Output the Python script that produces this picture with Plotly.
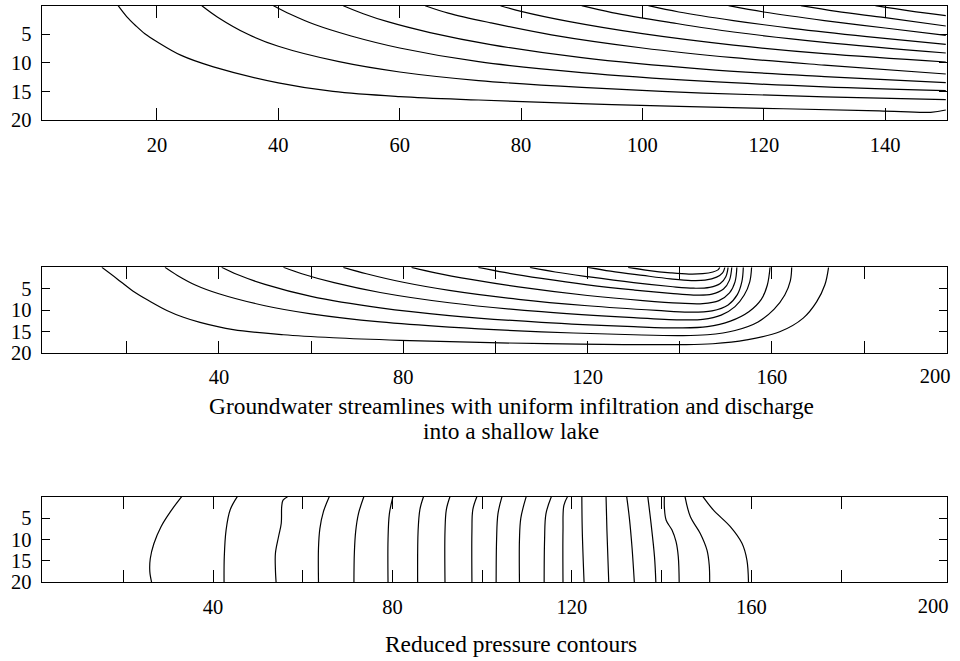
import plotly.graph_objects as go

# ---------------- data ----------------
depth_ticks = [5, 10, 15, 20]
top_x_ticks = [20, 40, 60, 80, 100, 120, 140]
wide_x_ticks = [20, 40, 60, 80, 100, 120, 140, 160, 180]
wide_x_labels = ["", "40", "", "80", "", "120", "", "160", ""]

# Top panel: streamlines (x, depth)
top_lines_x = [
    [13.6, 15.0, 16.5, 18.0, 20.0, 24.0, 29.3, 40.0, 49.0, 60.0, 73.0, 95.0, 120.0, 139.0, 147.5, 150.0],
    [27.4, 30.0, 35.0, 40.0, 50.0, 60.0, 73.0, 90.0, 110.0, 130.0, 150.0],
    [39.2, 42.0, 46.0, 52.0, 60.0, 73.0, 90.0, 110.0, 130.0, 150.0],
    [50.7, 54.0, 58.0, 65.0, 75.0, 90.0, 110.0, 130.0, 150.0],
    [64.2, 68.0, 75.0, 85.0, 100.0, 115.0, 130.0, 150.0],
    [76.6, 80.0, 88.0, 100.0, 115.0, 130.0, 150.0],
    [90.0, 95.0, 105.0, 115.0, 130.0, 150.0],
    [101.0, 106.0, 115.0, 125.0, 137.0, 150.0],
    [114.2, 120.0, 130.0, 140.0, 150.0],
    [126.1, 132.0, 140.0, 150.0],
    [138.4, 144.0, 150.0],
]
top_lines_y = [
    [0.0, 1.9, 3.5, 4.9, 6.3, 8.7, 10.7, 13.5, 15.0, 15.9, 16.5, 17.3, 17.95, 18.4, 18.65, 18.25],
    [0.0, 2.0, 5.0, 7.1, 9.8, 11.6, 13.1, 14.3, 15.3, 15.95, 16.45],
    [0.0, 1.5, 3.3, 5.3, 7.4, 9.8, 11.7, 13.2, 14.2, 14.87],
    [0.0, 1.4, 2.8, 4.7, 6.8, 9.1, 11.1, 12.4, 13.45],
    [0.0, 1.3, 3.0, 5.1, 7.4, 9.1, 10.4, 11.95],
    [0.0, 1.0, 2.8, 4.9, 6.9, 8.4, 9.85],
    [0.0, 1.2, 3.0, 4.6, 6.4, 8.28],
    [0.0, 1.1, 2.6, 4.0, 5.4, 6.75],
    [0.0, 1.1, 2.6, 3.9, 5.18],
    [0.0, 1.0, 2.1, 3.55],
    [0.0, 0.9, 1.75],
]

# Middle panel: streamlines discharging into a shallow lake
mid_lines_x = [
    [14.6, 17.8, 21.4, 25.1, 28.7, 32.3, 35.9, 43.1, 54.0, 64.8, 79.3, 96.6, 118.3, 140.0, 147.2, 154.5, 161.7, 166.8, 169.7, 171.5, 172.3],
    [28.3, 31.0, 35.0, 40.0, 50.0, 60.0, 75.0, 90.0, 110.0, 130.0, 140.0, 146.0, 152.0, 157.0, 160.5, 162.8, 164.0, 164.3],
    [40.6, 44.0, 50.0, 60.0, 75.0, 90.0, 110.0, 130.0, 140.0, 146.0, 151.0, 155.0, 157.7, 159.0, 159.6],
    [54.0, 58.0, 65.0, 75.0, 90.0, 110.0, 130.0, 140.0, 145.0, 149.0, 152.0, 154.0, 155.2, 155.6],
    [67.0, 72.0, 80.0, 90.0, 105.0, 120.0, 135.0, 142.0, 147.0, 150.5, 152.5, 153.5, 153.8],
    [81.8, 87.0, 95.0, 105.0, 120.0, 132.0, 140.0, 145.0, 148.5, 150.8, 152.0, 152.4],
    [96.3, 102.0, 110.0, 120.0, 130.0, 138.0, 143.0, 147.0, 149.5, 150.8, 151.3],
    [107.5, 113.0, 120.0, 130.0, 138.0, 143.0, 146.5, 148.8, 150.0, 150.5],
    [120.1, 125.0, 132.0, 138.0, 142.5, 145.5, 148.0, 149.3, 149.8],
    [128.8, 133.0, 138.0, 142.0, 145.0, 147.2, 148.3, 148.7],
]
mid_lines_y = [
    [0.0, 2.6, 5.6, 8.0, 10.1, 11.7, 12.9, 14.6, 15.8, 16.5, 17.1, 17.6, 18.0, 18.1, 17.9, 17.0, 15.1, 11.9, 8.1, 4.1, 0.0],
    [0.0, 1.9, 4.2, 6.2, 9.0, 10.9, 12.8, 14.0, 15.1, 15.8, 16.0, 15.8, 14.8, 12.8, 9.8, 6.5, 3.2, 0.0],
    [0.0, 1.7, 4.0, 6.8, 9.5, 11.3, 12.9, 13.9, 14.2, 13.9, 12.6, 10.4, 7.5, 4.2, 0.0],
    [0.0, 1.5, 3.6, 5.9, 8.3, 10.4, 11.8, 12.3, 12.2, 11.2, 9.2, 6.5, 3.4, 0.0],
    [0.0, 1.5, 3.5, 5.4, 7.5, 9.0, 10.1, 10.5, 10.2, 8.8, 6.4, 3.3, 0.0],
    [0.0, 1.3, 2.9, 4.6, 6.6, 7.8, 8.4, 8.5, 7.8, 6.0, 3.4, 0.0],
    [0.0, 1.2, 2.6, 4.1, 5.3, 6.1, 6.5, 6.3, 5.1, 3.0, 0.0],
    [0.0, 1.1, 2.2, 3.6, 4.5, 4.9, 4.7, 3.8, 2.2, 0.0],
    [0.0, 0.9, 1.9, 2.7, 3.1, 3.0, 2.3, 1.3, 0.0],
    [0.0, 0.7, 1.3, 1.6, 1.5, 1.1, 0.6, 0.0],
]

# Bottom panel: reduced pressure contours
low_lines_x = [
    [33.0, 30.5, 28.4, 26.8, 26.0, 25.9, 26.3],
    [45.4, 43.8, 42.9, 42.5, 42.45],
    [56.6, 55.6, 55.3, 55.2, 54.6, 53.9, 53.9, 54.05],
    [65.9, 64.6, 63.8, 63.5, 63.5],
    [73.6, 72.4, 71.8, 71.5, 71.4],
    [80.1, 79.3, 79.0, 79.0],
    [86.9, 86.1, 85.7, 85.6],
    [92.8, 92.0, 91.7, 91.7],
    [98.8, 97.9, 97.7, 97.7],
    [104.4, 103.5, 103.2, 103.1],
    [109.8, 108.6, 108.3, 108.3],
    [115.4, 114.2, 113.9, 113.8],
    [119.0, 118.2, 118.0, 118.0],
    [122.2, 122.3, 122.7],
    [127.6, 127.8, 128.2],
    [132.2, 132.8, 133.4, 133.9],
    [136.9, 137.6, 138.4, 138.7],
    [140.6, 140.6, 141.0, 142.3, 143.2, 143.7, 143.9],
    [145.2, 146.4, 148.6, 150.1, 150.6, 150.7],
    [149.2, 151.5, 155.3, 157.9, 159.0, 159.35],
]
low_lines_y = [
    [0.0, 3.5, 7.0, 11.0, 14.5, 17.5, 20.0],
    [0.0, 3.1, 7.8, 14.0, 20.0],
    [0.0, 0.8, 2.3, 6.2, 9.3, 13.2, 17.1, 20.0],
    [0.0, 3.5, 7.5, 12.0, 20.0],
    [0.0, 4.0, 8.0, 13.0, 20.0],
    [0.0, 4.0, 10.0, 20.0],
    [0.0, 3.0, 8.0, 20.0],
    [0.0, 3.0, 8.0, 20.0],
    [0.0, 3.0, 8.0, 20.0],
    [0.0, 4.0, 10.0, 20.0],
    [0.0, 5.0, 10.0, 20.0],
    [0.0, 4.0, 10.0, 20.0],
    [0.0, 2.0, 8.0, 20.0],
    [0.0, 8.0, 20.0],
    [0.0, 8.0, 20.0],
    [0.0, 5.0, 12.0, 20.0],
    [0.0, 6.0, 14.0, 20.0],
    [0.0, 2.5, 5.5, 7.8, 10.5, 14.0, 20.0],
    [0.0, 4.7, 8.6, 12.5, 16.0, 20.0],
    [0.0, 3.1, 7.0, 10.9, 14.8, 20.0],
]

title_mid_1 = "Groundwater streamlines with uniform infiltration and discharge"
title_mid_2 = "into a shallow lake"
title_low = "Reduced pressure contours"
edge_label = "200"

# ---------------- figure ----------------
FONT = "Liberation Serif, Times New Roman, serif"
W, H = 960, 661
fig = go.Figure()

def add_lines(xs, ys, xa, ya):
    for lx, ly in zip(xs, ys):
        fig.add_trace(go.Scatter(x=lx, y=ly, mode="lines", xaxis=xa, yaxis=ya,
                                 line=dict(color="black", width=1.2, shape="spline", smoothing=1.0),
                                 hoverinfo="skip", showlegend=False))

add_lines(top_lines_x, top_lines_y, "x", "y")
add_lines(mid_lines_x, mid_lines_y, "x2", "y2")
add_lines(low_lines_x, low_lines_y, "x3", "y3")

xdom = [41.7 / W, 947 / W]

def ydom(top_px, bot_px):
    return [1 - bot_px / H, 1 - top_px / H]

tick_font = dict(family=FONT, size=20.5, color="black")
common_x = dict(showgrid=False, zeroline=False, showline=True, linecolor="black", linewidth=1.3,
                mirror="ticks", ticks="inside", ticklen=12, tickwidth=1.3, tickcolor="black",
                tickfont=tick_font, ticklabelstandoff=6, automargin=False, domain=xdom)
common_y = dict(showgrid=False, zeroline=False, showline=True, linecolor="black", linewidth=1.3,
                mirror="ticks", ticks="inside", ticklen=8, tickwidth=1.3, tickcolor="black",
                tickfont=tick_font, ticklabelstandoff=5, automargin=False,
                tickmode="array", tickvals=depth_ticks, ticktext=[str(v) for v in depth_ticks],
                range=[20, 0])
overlay_x = dict(showline=False, showgrid=False, zeroline=False, ticks="", tickmode="array",
                 tickfont=tick_font, ticklabelstandoff=9, automargin=False, side="bottom",
                 domain=xdom)

fig.update_layout(
    width=W, height=H, margin=dict(l=0, r=0, t=0, b=0, pad=0, autoexpand=False),
    paper_bgcolor="white", plot_bgcolor="white", showlegend=False,
    font=dict(family=FONT, color="black"),
    xaxis=dict(common_x, anchor="y", range=[1, 150.2], tickmode="array",
               tickvals=top_x_ticks, ticktext=[str(v) for v in top_x_ticks]),
    yaxis=dict(common_y, anchor="x", domain=ydom(5.7, 120)),
    xaxis2=dict(common_x, anchor="y2", range=[1.55, 198], tickmode="array",
                tickvals=wide_x_ticks, ticktext=wide_x_labels),
    yaxis2=dict(common_y, anchor="x2", domain=ydom(267.3, 352.7)),
    xaxis3=dict(common_x, anchor="y3", range=[1.8, 203.6], tickmode="array",
                tickvals=wide_x_ticks, ticktext=wide_x_labels),
    yaxis3=dict(common_y, anchor="x3", domain=ydom(496.7, 582.3)),
    # label-only overlay axes for the right-hand "200" labels
    xaxis4=dict(overlay_x, overlaying="x2", anchor="y2", range=[1.55, 198],
                tickvals=[195.4], ticktext=[edge_label]),
    xaxis5=dict(overlay_x, overlaying="x3", anchor="y3", range=[1.8, 203.6],
                tickvals=[200.5], ticktext=[edge_label]),
)
fig.add_trace(go.Scatter(x=[None], y=[None], xaxis="x4", yaxis="y2", showlegend=False, hoverinfo="skip"))
fig.add_trace(go.Scatter(x=[None], y=[None], xaxis="x5", yaxis="y3", showlegend=False, hoverinfo="skip"))

cx = 511 / W
for text, cy in [(title_mid_1, 406), (title_mid_2, 431), (title_low, 644)]:
    fig.add_annotation(text=text, x=cx, y=1 - cy / H, xref="paper", yref="paper",
                       xanchor="center", yanchor="middle", showarrow=False,
                       font=dict(family=FONT, size=23.4, color="black"))

fig.write_html("out.html", config={"displayModeBar": False},
               post_script="document.body.style.margin='0';document.body.style.overflow='hidden';")
